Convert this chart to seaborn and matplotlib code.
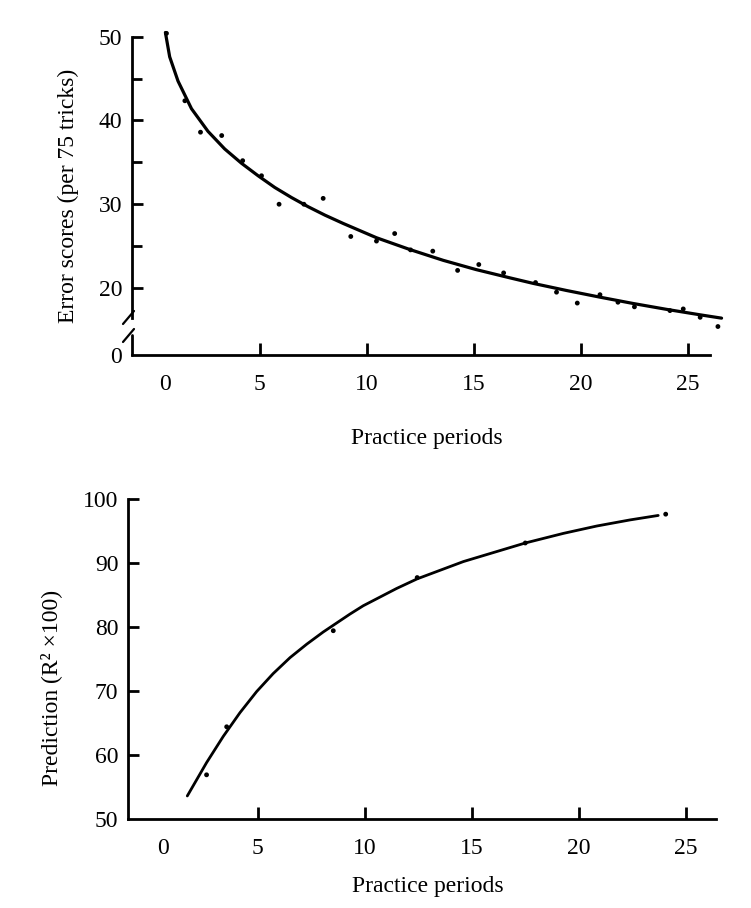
import numpy as np
import pandas as pd
import matplotlib
matplotlib.use("Agg")
import matplotlib.pyplot as plt
import matplotlib.transforms as mtransforms
import seaborn as sns

# top panel: error scores per practice period (dots) and fitted curve
err_period = [0.64, 1.50, 2.23, 3.22, 4.2, 5.08, 5.9, 7.06, 7.96, 9.25, 10.45, 11.3, 12.04, 13.08,
              14.24, 15.23, 16.39, 17.88, 18.86, 19.83, 20.89, 21.73, 22.5, 24.16, 24.78, 25.57, 26.4]
err_score = [50.4, 42.35, 38.6, 38.2, 35.2, 33.4, 30.0, 30.0, 30.7, 26.15, 25.6, 26.5, 24.55, 24.4,
             22.1, 22.8, 21.8, 20.65, 19.5, 18.2, 19.2, 18.3, 17.75, 17.3, 17.5, 16.5, 15.4]
err_fit_x = [0.59, 0.79, 1.18, 1.81, 2.58, 3.36, 4.14, 4.92, 5.7, 6.48, 7.26, 8.04, 8.9, 10.45, 12.0,
             13.57, 15.1, 16.7, 17.77, 19.33, 20.9, 22.44, 24.0, 25.56, 26.57]
err_fit_y = [50.5, 47.6, 44.7, 41.4, 38.7, 36.6, 34.9, 33.4, 32.0, 30.8, 29.7, 28.7, 27.7, 26.0, 24.6,
             23.3, 22.2, 21.2, 20.55, 19.7, 18.9, 18.15, 17.45, 16.8, 16.4]

# bottom panel: prediction (R^2 x 100)
pred_period = [2.6, 3.54, 8.52, 12.44, 17.49, 24.05]
pred_value = [56.9, 64.4, 79.4, 87.7, 93.1, 97.6]
pred_fit_x = [1.7, 2.6, 3.38, 4.16, 4.94, 5.71, 6.5, 7.28, 8.05, 9.3, 9.92, 11.48, 12.44, 14.6,
              17.49, 19.27, 20.83, 22.38, 23.7]
pred_fit_y = [53.6, 58.8, 62.9, 66.6, 69.9, 72.7, 75.2, 77.3, 79.2, 82.0, 83.3, 86.0, 87.5, 90.2,
              93.1, 94.6, 95.75, 96.7, 97.4]

x_ticks = [0, 5, 10, 15, 20, 25]

sns.set_style("ticks")
plt.rcParams["font.family"] = ["Liberation Serif", "DejaVu Serif"]
plt.rcParams.update({
    "axes.linewidth": 2.0,
    "text.color": "black",
    "axes.labelcolor": "black",
    "axes.edgecolor": "black",
    "xtick.color": "black",
    "ytick.color": "black",
})
FS = 17

fig = plt.figure(figsize=(7.51, 9.08), dpi=100)
ax1 = fig.add_axes([132 / 751, 1 - 355 / 908, (710 - 132) / 751, (355 - 36.7) / 908])
ax2 = fig.add_axes([128 / 751, 1 - 819 / 908, (716 - 128) / 751, (819 - 498.8) / 908])


def fwd(y):
    y = np.asarray(y, dtype=float)
    return np.where(y >= 15, y, 12 + y * 0.2)


def inv(z):
    z = np.asarray(z, dtype=float)
    return np.where(z >= 15, z, (z - 12) / 0.2)


top_pts = pd.DataFrame({"period": err_period, "score": err_score})
top_fit = pd.DataFrame({"period": err_fit_x, "score": err_fit_y})
bot_pts = pd.DataFrame({"period": pred_period, "value": pred_value})
bot_fit = pd.DataFrame({"period": pred_fit_x, "value": pred_fit_y})

# ---- top panel
ax1.set_yscale("function", functions=(fwd, inv))
sns.lineplot(data=top_fit, x="period", y="score", ax=ax1, color="black", lw=2.3,
             sort=False, clip_on=False)
sns.scatterplot(data=top_pts, x="period", y="score", ax=ax1, color="black", s=12,
                edgecolor="none", clip_on=False, zorder=3)
ax1.set_xlim(-0.97, 26.03)
ax1.set_ylim(0, 50)
ax1.set_yticks([0, 20, 30, 40, 50])
ax1.set_yticks([25, 35, 45], minor=True)
ax1.set_ylabel("Error scores (per 75 tricks)", fontsize=FS)
ax1.yaxis.set_label_coords(-0.092, 0.5)

# broken y axis
ax1.spines["left"].set_bounds(16.4, 50)
ytr = ax1.get_yaxis_transform()
ax1.plot([0, 0], [0, 11.8], transform=ytr, color="black", lw=2.0, clip_on=False)
px, py = 1 / 578, 1 / 318.3
for y0 in (318, 336):
    yc = (355 - y0) * py
    ax1.plot([-9 * px, 2 * px], [yc - 6 * py, yc + 7 * py], transform=ax1.transAxes,
             color="black", lw=1.6, clip_on=False)

# ---- bottom panel
sns.lineplot(data=bot_fit, x="period", y="value", ax=ax2, color="black", lw=2.0,
             sort=False, clip_on=False)
sns.scatterplot(data=bot_pts, x="period", y="value", ax=ax2, color="black", s=12,
                edgecolor="none", clip_on=False, zorder=3)
ax2.set_xlim(-1.07, 26.4)
ax2.set_ylim(50, 100)
ax2.set_yticks([50, 60, 70, 80, 90, 100])
ax2.set_ylabel("Prediction (R\u00b2 \u00d7100)", fontsize=FS)
ax2.yaxis.set_label_coords(-0.112, 0.41)

for ax, ycoord in ((ax1, -0.229), (ax2, -0.178)):
    sns.despine(ax=ax)
    ax.set_xticks(x_ticks)
    ax.tick_params(axis="both", direction="in", labelsize=FS, width=2.0)
    ax.tick_params(axis="y", which="major", length=8, pad=7)
    ax.tick_params(axis="y", which="minor", length=7, width=2.0, direction="in")
    ax.tick_params(axis="x", length=9, pad=14)
    ax.set_xlabel("Practice periods", fontsize=FS)
    ax.xaxis.set_label_coords(0.51, ycoord)
    # no tick mark at 0 and the "0" label sits a little to the right
    ax.xaxis.get_major_ticks()[0].tick1line.set_visible(False)
    lbl = ax.get_xticklabels()[0]
    lbl.set_transform(lbl.get_transform() + mtransforms.ScaledTranslation(0.12, 0, fig.dpi_scale_trans))

ax1.yaxis.get_major_ticks()[0].tick1line.set_visible(False)
ax2.yaxis.get_major_ticks()[0].tick1line.set_visible(False)

fig.savefig("out.png", dpi=100)
